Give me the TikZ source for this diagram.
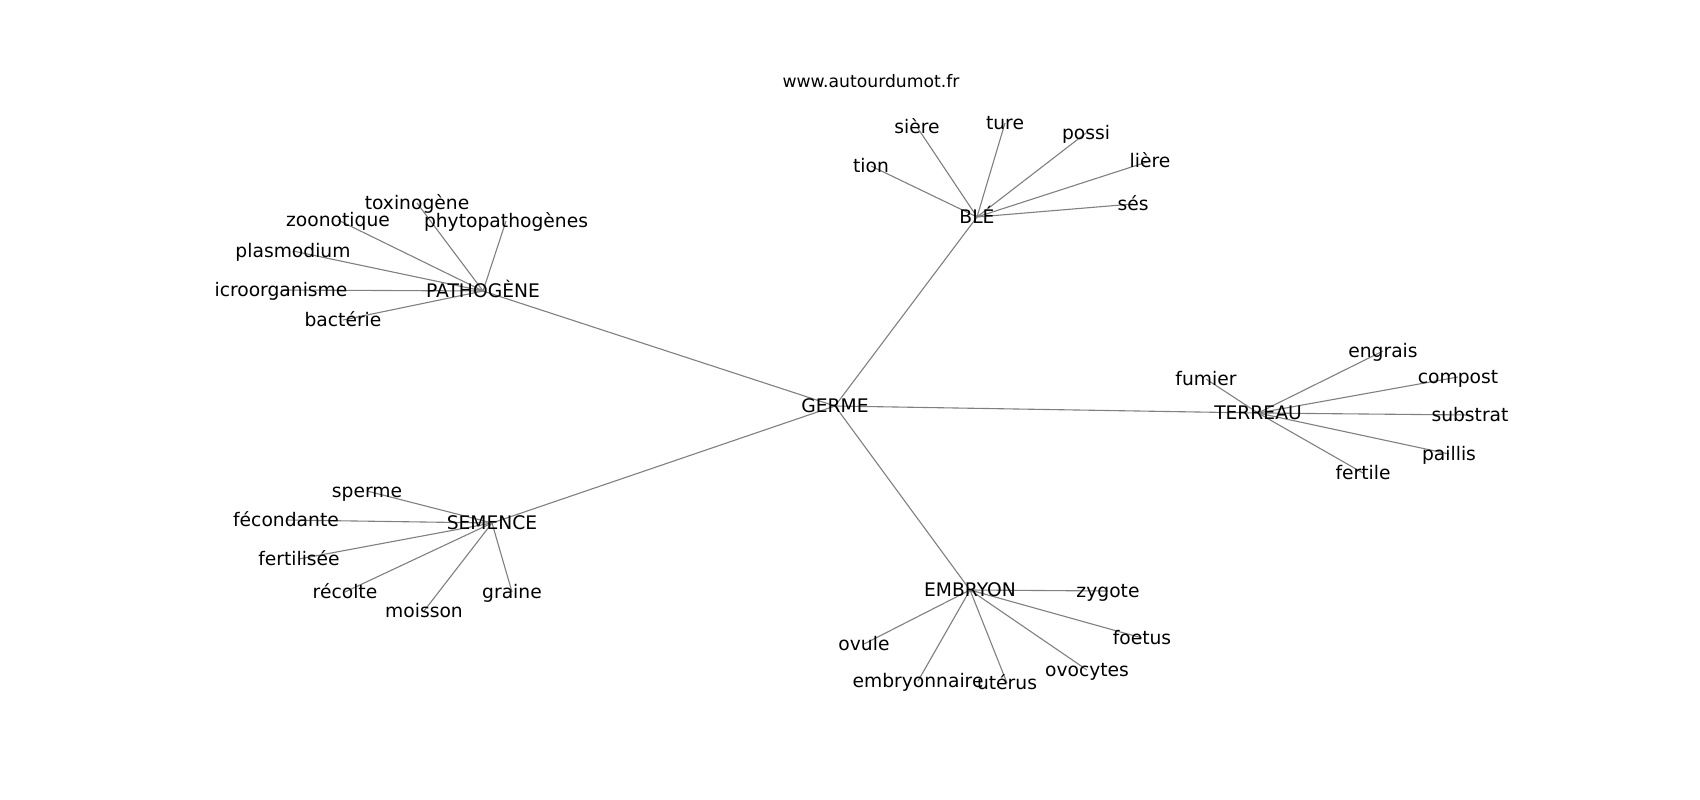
\documentclass[tikz,border=0pt]{standalone}
\usepackage{fontspec}
\setmainfont{DejaVu Sans}
\pgfdeclarelayer{back}
\pgfdeclarelayer{bg}
\pgfsetlayers{back,bg,main}
\tikzset{
  word/.style={inner sep=0pt, anchor=center, text height=14.5pt, text depth=2pt, font=\fontsize{18.7}{22}\selectfont},
  head/.style={word},
  title/.style={inner sep=0pt, anchor=center, text height=13.3pt, text depth=1.9pt, font=\fontsize{17.2}{20}\selectfont},
  link/.style={draw=gray, line width=1.1pt}
}
\begin{document}
\begin{tikzpicture}[x=1pt,y=-1pt]
\useasboundingbox (0,0) rectangle (1700,800);
\begin{pgfonlayer}{back}
\fill[white] (0,0) rectangle (1700,800);
\end{pgfonlayer}
\node[title] (site) at (871,82) {www.autourdumot.fr};
% hubs
\node[head] (germe) at (835,406) {GERME};
\node[head] (ble) at (977,217) {BLÉ};
\node[head] (patho) at (483,291) {PATHOGÈNE};
\node[head] (terreau) at (1258,413) {TERREAU};
\node[head] (semence) at (492,523) {SEMENCE};
\node[head] (embryon) at (970,590) {EMBRYON};
% BLÉ leaves
\node[word] (tion) at (871,166) {tion};
\node[word] (siere) at (917,127) {sière};
\node[word] (ture) at (1005,123) {ture};
\node[word] (possi) at (1086,133) {possi};
\node[word] (liere) at (1150,161) {lière};
\node[word] (ses) at (1133,204) {sés};
% PATHOGÈNE leaves
\node[word] (toxi) at (417,203) {toxinogène};
\node[word] (zoo) at (338,220) {zoonotique};
\node[word] (phyto) at (506,221) {phytopathogènes};
\node[word] (plasmo) at (293,251) {plasmodium};
\node[word] (micro) at (281,290) {icroorganisme};
\node[word] (bact) at (343,320) {bactérie};
% TERREAU leaves
\node[word] (engrais) at (1383,351) {engrais};
\node[word] (compost) at (1458,377) {compost};
\node[word] (fumier) at (1206,379) {fumier};
\node[word] (substrat) at (1470,415) {substrat};
\node[word] (paillis) at (1449,454) {paillis};
\node[word] (fertile) at (1363,473) {fertile};
% SEMENCE leaves
\node[word] (sperme) at (367,491) {sperme};
\node[word] (fecond) at (286,520) {fécondante};
\node[word] (fertil) at (299,559) {fertilisée};
\node[word] (recolte) at (345,592) {récolte};
\node[word] (moisson) at (424,611) {moisson};
\node[word] (graine) at (512,592) {graine};
% EMBRYON leaves
\node[word] (zygote) at (1108,591) {zygote};
\node[word] (ovule) at (864,644) {ovule};
\node[word] (embryo) at (918,681) {embryonnaire};
\node[word] (uterus) at (1007,683) {utérus};
\node[word] (ovocytes) at (1087,670) {ovocytes};
\node[word] (foetus) at (1142,638) {foetus};
\begin{pgfonlayer}{bg}
\foreach \h in {ble,patho,terreau,semence,embryon}
  \draw[link] (germe.center) -- (\h.center);
\foreach \l in {tion,siere,ture,possi,liere,ses}
  \draw[link] (ble.center) -- (\l.center);
\foreach \l in {toxi,zoo,phyto,plasmo,micro,bact}
  \draw[link] (patho.center) -- (\l.center);
\foreach \l in {engrais,compost,fumier,substrat,paillis,fertile}
  \draw[link] (terreau.center) -- (\l.center);
\foreach \l in {sperme,fecond,fertil,recolte,moisson,graine}
  \draw[link] (semence.center) -- (\l.center);
\foreach \l in {zygote,ovule,embryo,uterus,ovocytes,foetus}
  \draw[link] (embryon.center) -- (\l.center);
\end{pgfonlayer}
\end{tikzpicture}
\end{document}
